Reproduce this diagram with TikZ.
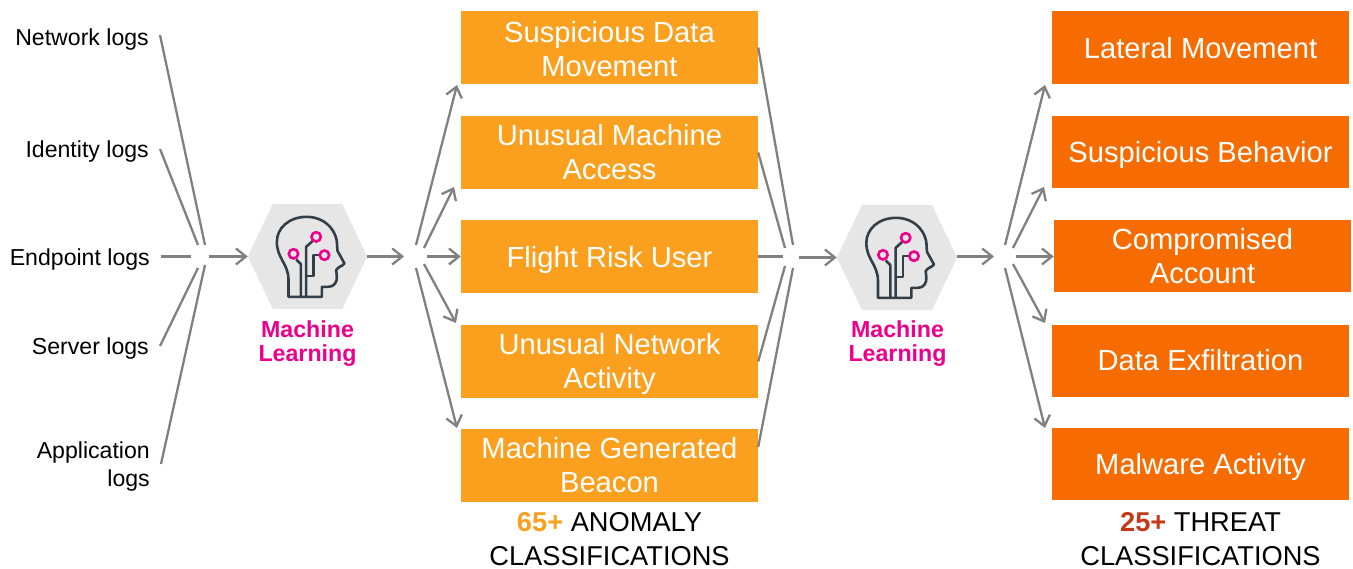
\documentclass[tikz,border=0pt]{standalone}
\usepackage{fontspec}
\setmainfont{Liberation Sans}
\usetikzlibrary{arrows.meta,calc}
\definecolor{anom}{HTML}{FAA01E}
\definecolor{threat}{HTML}{F76C00}
\definecolor{pinkml}{HTML}{EC008C}
\definecolor{linegray}{HTML}{808080}
\definecolor{hexgray}{HTML}{E6E6E6}
\definecolor{headdark}{HTML}{333F48}
\definecolor{redplus}{HTML}{C5391A}
\newcommand{\dn}[2]{\raisebox{-#1pt}[\height][\depth]{#2}}
\tikzset{
  x=1pt,y=-1pt,
  anombox/.style={fill=anom,text=white,inner sep=0pt,minimum width=297pt,minimum height=73pt,align=center,font=\fontsize{29.15}{34}\selectfont},
  threatbox/.style={fill=threat,text=white,inner sep=0pt,minimum width=297pt,minimum height=72pt,align=center,font=\fontsize{29.15}{34}\selectfont},
  loglabel/.style={anchor=east,inner ysep=0pt,inner xsep=11pt,align=right,font=\fontsize{23.1}{28}\selectfont},
  hexnode/.style={inner sep=0pt,minimum width=119pt,minimum height=105pt},
  mllabel/.style={text=pinkml,align=center,inner sep=0pt,font=\bfseries\fontsize{23.2}{24}\selectfont},
  summary/.style={align=center,inner sep=0pt,font=\fontsize{27.25}{34}\selectfont},
  plain/.style={draw=linegray,line width=2.3pt},
  flow/.style={plain,-{Straight Barb[length=10pt,width=16pt,line width=2.3pt]}},
  headline/.style={headdark,line width=2.6pt,line join=round},
  headdot/.style={pinkml,line width=2.6pt},
  pics/mlhead/.style={code={
    \begin{scope}[x=0.3333pt,y=-0.3333pt,shift={(-472,-259)}]
      \draw[headline]
        (515,380) -- (515,350) -- (535,350)
        .. controls (552,350) and (562,335) .. (560,318)
        -- (558,300) .. controls (565,288) and (575,290) .. (583,280)
        -- (562,242)
        .. controls (560,225) and (562,210) .. (555,195)
        .. controls (540,158) and (505,140) .. (470,140)
        .. controls (415,140) and (380,175) .. (380,215)
        .. controls (380,265) and (415,280) .. (415,330)
        -- (415,380) -- cycle;
      \draw[headline] (438,268) -- (452,282) -- (452,380);
      \draw[headline] (488,212) -- (468,230) -- (468,380);
      \draw[headline] (510,255) -- (490,255) -- (490,318) -- (468,318);
      \draw[headdot] (430,251) circle[radius=14];
      \draw[headdot] (498,200) circle[radius=14];
      \draw[headdot] (523,255) circle[radius=14];
    \end{scope}
  }},
}
\newcommand{\hexfill}[1]{%
  \fill[hexgray] (#1.west) -- ($(#1.north west)!.21!(#1.north east)$) -- ($(#1.north west)!.79!(#1.north east)$)
    -- (#1.east) -- ($(#1.south west)!.79!(#1.south east)$) -- ($(#1.south west)!.21!(#1.south east)$) -- cycle;}
\begin{document}
\begin{tikzpicture}
\useasboundingbox (0,0) rectangle (1353,569);
% left labels
\node[loglabel] (lnet) at (160,35) {\dn{5}{Network logs}};
\node[loglabel] (lid) at (160,149) {\dn{3}{Identity logs}};
\node[loglabel] (lend) at (161,256.5) {\dn{3}{Endpoint logs}};
\node[loglabel] (lsrv) at (160,346) {\dn{3}{Server logs}};
\node[loglabel] (lapp) at (161,464) {\dn{3}{Application}\\\dn{3}{logs}};
% hexagons
\node[hexnode] (h1) at (307.5,256.5) {};
\node[hexnode,minimum width=120pt] (h2) at (897,257.5) {};
\hexfill{h1}
\hexfill{h2}
\pic at (h1.center) {mlhead};
\pic at (h2.center) {mlhead};
\node[mllabel] (ml1) at (307.5,344) {Machine\\Learning};
\node[mllabel] (ml2) at (897.5,344) {Machine\\Learning};
% anomaly boxes
\node[anombox] (a1) at (609.5,47.5) {\dn{2}{Suspicious Data}\\\dn{2}{Movement}};
\node[anombox] (a2) at (609.5,152.5) {Unusual Machine\\Access};
\node[anombox] (a3) at (609.5,256.5) {\dn{3}{Flight Risk User}};
\node[anombox] (a4) at (609.5,361.5) {\dn{2}{Unusual Network}\\\dn{2}{Activity}};
\node[anombox] (a5) at (609.5,465.5) {Machine Generated\\Beacon};
% threat boxes
\node[threatbox,minimum height=73pt] (t1) at (1200.5,47.5) {\dn{1}{Lateral Movement}};
\node[threatbox] (t2) at (1200.5,152) {\dn{3}{Suspicious Behavior}};
\node[threatbox] (t3) at (1202.5,256) {Compromised\\Account};
\node[threatbox] (t4) at (1200.5,361) {\raisebox{1pt}[\height][\depth]{Data Exfiltration}};
\node[threatbox] (t5) at (1200.5,464) {\dn{3}{Malware Activity}};
% summaries
\node[summary] (s1) at (609.5,539) {{\bfseries\color{anom}65+} ANOMALY\\CLASSIFICATIONS};
\node[summary] (s2) at (1200.5,539) {{\bfseries\color{redplus}25+} THREAT\\CLASSIFICATIONS};
% free ends, first fan-in
\coordinate (c1a) at (205,245);
\coordinate (c1b) at (198,245);
\coordinate (c1c) at (191,256.5);
\coordinate (c1d) at (198,268);
\coordinate (c1e) at (205,265);
\coordinate (c1s) at (209,256.5);
\coordinate (c1t) at (404,256.5);
\draw[plain] (lnet.east) -- (c1a);
\draw[plain] (lid.east) -- (c1b);
\draw[plain] (lend.east) -- (c1c);
\draw[plain] (lsrv.east) -- (c1d);
\draw[plain] (lapp.east) -- (c1e);
\draw[flow] (c1s) -- (h1.west);
\draw[flow] (h1.east) -- (c1t);
% first fan-out
\coordinate (d1a) at (416,245);
\coordinate (d1b) at (424,248);
\coordinate (d1c) at (427,256.5);
\coordinate (d1d) at (424,264);
\coordinate (d1e) at (416,268);
\coordinate (e1a) at (457,85);
\coordinate (e1b) at (454,187);
\coordinate (e1d) at (456,323);
\coordinate (e1e) at (457,428);
\draw[flow] (d1a) -- (e1a);
\draw[flow] (d1b) -- (e1b);
\draw[flow] (d1c) -- (a3.west);
\draw[flow] (d1d) -- (e1d);
\draw[flow] (d1e) -- (e1e);
% second fan-in
\coordinate (c2a) at (793,245);
\coordinate (c2b) at (785,248);
\coordinate (c2c) at (783,256.5);
\coordinate (c2d) at (785,266);
\coordinate (c2e) at (793,268);
\coordinate (c2s) at (799,257.5);
\coordinate (c2t) at (994,256.5);
\draw[plain] (a1.east) -- (c2a);
\draw[plain] (a2.east) -- (c2b);
\draw[plain] (a3.east) -- (c2c);
\draw[plain] (a4.east) -- (c2d);
\draw[plain] ([yshift=18.5pt]a5.east) -- (c2e);
\draw[flow] (c2s) -- (h2.west);
\draw[flow] ([yshift=1pt]h2.east) -- (c2t);
% second fan-out
\coordinate (d2a) at (1005,245);
\coordinate (d2b) at (1013,248);
\coordinate (d2c) at (1016,256.5);
\coordinate (d2d) at (1013,264);
\coordinate (d2e) at (1005,268);
\coordinate (e2a) at (1045,85);
\coordinate (e2b) at (1044,187);
\coordinate (e2d) at (1045,323);
\coordinate (e2e) at (1045,428);
\draw[flow] (d2a) -- (e2a);
\draw[flow] (d2b) -- (e2b);
\draw[flow] (d2c) -- ([yshift=-0.5pt]t3.west);
\draw[flow] (d2d) -- (e2d);
\draw[flow] (d2e) -- (e2e);
\end{tikzpicture}
\end{document}
